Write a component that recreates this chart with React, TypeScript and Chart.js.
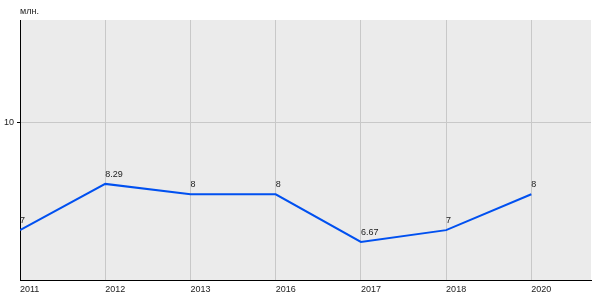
import React, { useEffect, useRef } from "react";
import { Chart, registerables } from "chart.js";

Chart.register(...registerables);

const categories = ["2011", "2012", "2013", "2016", "2017", "2018", "2020"];
const values = [7, 8.29, 8, 8, 6.67, 7, 8];
const valueLabels = ["7", "8.29", "8", "8", "6.67", "7", "8"];
const yTicks = [10];
const unitLabel = "млн.";

const FONT = "Liberation Sans, Arial, sans-serif";

const bgPlugin = {
  id: "bgPlugin",
  beforeDraw(chart: any) {
    const { ctx, chartArea } = chart;
    ctx.save();
    ctx.fillStyle = "#ffffff";
    ctx.fillRect(0, 0, chart.width, chart.height);
    ctx.fillStyle = "#ebebeb";
    ctx.fillRect(chartArea.left, chartArea.top, chartArea.right - chartArea.left, chartArea.bottom - chartArea.top);
    ctx.restore();
  },
  afterDraw(chart: any) {
    const { ctx, chartArea } = chart;
    ctx.save();
    ctx.font = `9px ${FONT}`;
    ctx.fillStyle = "#222";
    ctx.textAlign = "left";
    ctx.textBaseline = "middle";
    ctx.fillText(unitLabel, chartArea.left, 12);
    const meta = chart.getDatasetMeta(0);
    meta.data.forEach((pt: any, i: number) => {
      ctx.textBaseline = "bottom";
      ctx.fillText(valueLabels[i], pt.x, pt.y - 5);
    });
    ctx.restore();
  },
};

export default function App() {
  const ref = useRef<HTMLCanvasElement>(null);
  useEffect(() => {
    if (!ref.current) return;
    const chart = new Chart(ref.current, {
      type: "line",
      data: {
        datasets: [
          {
            data: values.map((v, i) => ({ x: i, y: v })),
            borderColor: "#0050f0",
            borderWidth: 2,
            pointRadius: 0,
            tension: 0,
            fill: false,
          },
        ],
      },
      plugins: [bgPlugin],
      options: {
        animation: false,
        responsive: false,
        maintainAspectRatio: false,
        layout: { padding: { top: 20, right: 9, left: 0, bottom: 0 } },
        plugins: { legend: { display: false }, tooltip: { enabled: false } },
        scales: {
          x: {
            type: "linear",
            min: 0,
            max: 6.7,
            afterBuildTicks: (axis: any) => {
              axis.ticks = categories.map((_, i) => ({ value: i }));
            },
            afterFit: (axis: any) => {
              axis.height = 20;
            },
            grid: { color: "#c8c8c8", lineWidth: 1, drawTicks: false },
            border: { color: "#000", width: 1 },
            ticks: {
              autoSkip: false,
              maxRotation: 0,
              align: "start",
              padding: 4,
              color: "#222",
              font: { family: FONT, size: 9 },
              callback: (v: any) => categories[v as number] ?? "",
            },
          },
          y: {
            min: 5.61,
            max: 12.86,
            afterBuildTicks: (axis: any) => {
              axis.ticks = yTicks.map((v) => ({ value: v }));
            },
            afterFit: (axis: any) => {
              axis.width = 20;
            },
            grid: { color: "#c8c8c8", lineWidth: 1, tickLength: 3, tickColor: "#000" },
            border: { color: "#000", width: 1 },
            ticks: {
              padding: 3,
              color: "#222",
              font: { family: FONT, size: 9 },
            },
          },
        },
      },
    } as any);
    return () => chart.destroy();
  }, []);
  return (
    <div style={{ position: "fixed", left: 0, top: 0, width: 600, height: 300 }}>
      <canvas ref={ref} width={600} height={300} style={{ width: 600, height: 300 }} />
    </div>
  );
}
